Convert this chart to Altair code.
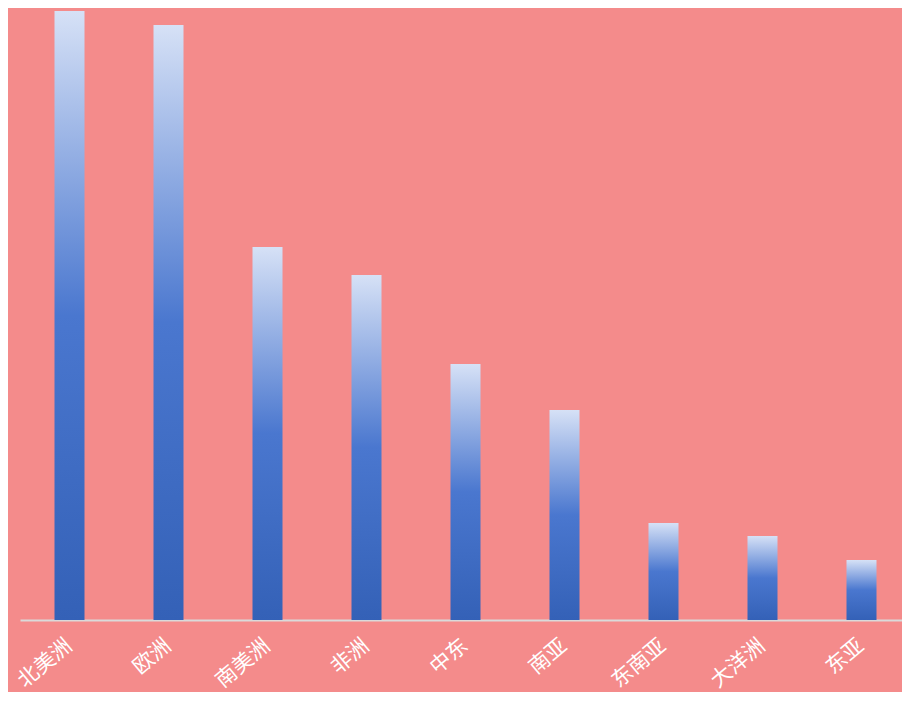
import altair as alt
import pandas as pd

regions = ["北美洲", "欧洲", "南美洲", "非洲", "中东", "南亚", "东南亚", "大洋洲", "东亚"]
values = [609, 595, 373, 345, 256, 210, 97, 84, 60]

df = pd.DataFrame({"region": regions, "value": values})

gradient = alt.Gradient(
    gradient="linear",
    stops=[
        alt.GradientStop(color="#D6E1F6", offset=0),
        alt.GradientStop(color="#4A77CF", offset=0.5),
        alt.GradientStop(color="#3461B7", offset=1),
    ],
    x1=0, x2=0, y1=0, y2=1,
)

chart = (
    alt.Chart(df)
    .mark_bar(width=30, color=gradient)
    .encode(
        x=alt.X(
            "region:N",
            sort=regions,
            title=None,
            scale=alt.Scale(paddingInner=0, paddingOuter=0, range=[0, 891]),
            axis=alt.Axis(
                labelAngle=-40,
                labelAlign="right",
                labelBaseline="middle",
                labelPadding=23,
                labelColor="white",
                labelFontSize=21,
                labelFont="Noto Sans CJK SC",
                ticks=False,
                domainColor="#DADADA",
                domainWidth=2,
                grid=False,
            ),
        ),
        y=alt.Y(
            "value:Q",
            scale=alt.Scale(domain=[0, 612], nice=False),
            axis=None,
        ),
    )
    .properties(
        width=882,
        height=612,
        background="#F48B8B",
        padding={"left": 12, "top": 0, "right": 0, "bottom": 72},
        autosize=alt.AutoSizeParams(type="none"),
    )
    .configure_view(strokeWidth=0, fill="#F48B8B")
)

chart.save("out.html", embed_options={"renderer": "svg", "actions": False})
